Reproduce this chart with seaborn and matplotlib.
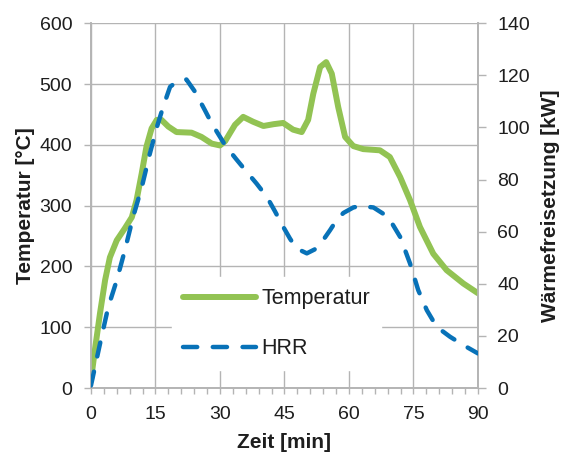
import matplotlib
matplotlib.use("Agg")
import matplotlib.pyplot as plt
from matplotlib.ticker import MultipleLocator
import seaborn as sns
import pandas as pd

# Temperature curve (°C) vs time (min)
temp_time = [0, 0.9, 2.1, 3.3, 4.4, 6.0, 7.9, 9.5, 10.6, 11.8, 12.9, 14.1, 15.3, 16.4, 18.0,
             19.9, 23.4, 25.7, 28.1, 30.0, 31.2, 32.3, 33.5, 35.4, 37.7, 40.1, 42.5, 44.7,
             47.0, 49.0, 50.5, 51.7, 53.3, 54.7, 56.0, 57.5, 59.1, 61.0, 63.3, 67.2, 69.5,
             71.9, 74.2, 76.5, 79.6, 82.7, 86.6, 90.0]
temp_vals = [13, 62, 123, 178, 215, 243, 263, 281, 309, 353, 397, 427, 441, 441, 430,
             421, 420, 413, 402, 399, 406, 419, 433, 446, 438, 431, 434, 436,
             425, 421, 441, 484, 528, 536, 517, 462, 413, 398, 393, 391, 380,
             347, 309, 265, 221, 194, 172, 156]

# Heat release rate (kW) vs time (min)
hrr_time = [0, 2.1, 4.0, 6.0, 7.9, 9.8, 11.8, 13.7, 15.3, 16.8, 18.4, 20.3, 22.2, 24.2, 26.5,
            28.1, 31.2, 33.7, 36.2, 38.5, 40.9, 42.8, 44.7, 46.3, 47.8, 50.2, 52.0, 54.0,
            55.6, 57.1, 58.7, 61.0, 62.6, 65.7, 69.1, 71.9, 74.2, 76.1, 78.1, 80.4, 83.5,
            86.6, 90.0]
hrr_vals = [1, 17, 31, 41.4, 53, 65.7, 77, 90, 100, 108, 115.6, 118, 118.4, 113.7, 106.6,
            101.5, 93.2, 88, 83, 78.5, 73.4, 67.8, 61.9, 57.3, 53.6, 51.7, 53.2, 56.8,
            60.6, 64.4, 67.2, 69.3, 69.9, 69.3, 65.7, 58, 47.8, 37.6, 29.9, 23.5, 19.7,
            16.5, 13.3]

x_ticks = [0, 15, 30, 45, 60, 75, 90]
left_ticks = [0, 100, 200, 300, 400, 500, 600]
right_ticks = [0, 20, 40, 60, 80, 100, 120, 140]

sns.set_theme(style="white")
plt.rcParams['font.family'] = ['Liberation Sans', 'DejaVu Sans']

green = '#92C353'
blue = '#0872B8'
gridc = '#B4B4B4'
textc = '#1E1E1E'
fs = 14
lfs = 15

fig = plt.figure(figsize=(5.65, 4.55), dpi=100)
ax = fig.add_axes([0.161, 0.147, 0.685, 0.802])
ax2 = ax.twinx()

df_t = pd.DataFrame({'Zeit': temp_time, 'Temperatur': temp_vals})
df_h = pd.DataFrame({'Zeit': hrr_time, 'HRR': hrr_vals})

sns.lineplot(data=df_t, x='Zeit', y='Temperatur', ax=ax, color=green, lw=4.3,
             label='Temperatur', legend=False, zorder=3)
sns.lineplot(data=df_h, x='Zeit', y='HRR', ax=ax2, color=blue, lw=3.2,
             label='HRR', legend=False, zorder=3)
gl = ax.lines[0]
gl.set_solid_capstyle('round')
gl.set_solid_joinstyle('round')
bl = ax2.lines[0]
bl.set_dashes([3.2, 3.5])
bl.set_dash_capstyle('round')
bl.set_dash_joinstyle('round')

ax.set_xlim(0, 90)
ax.set_ylim(0, 600)
ax2.set_ylim(0, 140)
ax.set_xticks(x_ticks)
ax.set_yticks(left_ticks)
ax2.set_yticks(right_ticks)
ax.xaxis.set_minor_locator(MultipleLocator(3))

ax.grid(True, which='major', color=gridc, lw=1.0)
ax.set_axisbelow(True)

for a in (ax, ax2):
    a.spines['top'].set_visible(False)
    for sp in ['left', 'bottom', 'right']:
        a.spines[sp].set_color(gridc)
        a.spines[sp].set_linewidth(1.2)

ax.tick_params(axis='x', which='both', direction='out', length=4, width=1, color=gridc,
               bottom=True, labelsize=fs, labelcolor=textc, pad=9)
ax.tick_params(axis='y', direction='out', length=5, width=1, color=gridc, labelsize=fs,
               labelcolor=textc, left=True, pad=8.5)
ax2.tick_params(axis='y', direction='out', length=5.5, width=1, color=gridc, labelsize=fs,
                labelcolor=textc, right=True, pad=8.5)

ax.set_xlabel('Zeit [min]', fontsize=lfs, fontweight='bold', color=textc, labelpad=7)
ax.set_ylabel('Temperatur [°C]', fontsize=lfs, fontweight='bold', color=textc, labelpad=3.5)
ax2.set_ylabel('Wärmefreisetzung [kW]', fontsize=lfs, fontweight='bold', color=textc, labelpad=8)

h1, l1 = ax.get_legend_handles_labels()
h2, l2 = ax2.get_legend_handles_labels()
leg = ax2.legend(h1 + h2, l1 + l2, loc='lower center', bbox_to_anchor=(0.48, 0.02),
                 frameon=True, fontsize=15.5, handlelength=3.4, labelspacing=1.35,
                 borderpad=0.5, handletextpad=0.25)
leg.get_frame().set_facecolor('white')
leg.get_frame().set_edgecolor('white')
leg.get_frame().set_alpha(1.0)
leg.get_frame().set_boxstyle('square', pad=0)
for t in leg.get_texts():
    t.set_color(textc)

fig.savefig('out.png', dpi=100)
